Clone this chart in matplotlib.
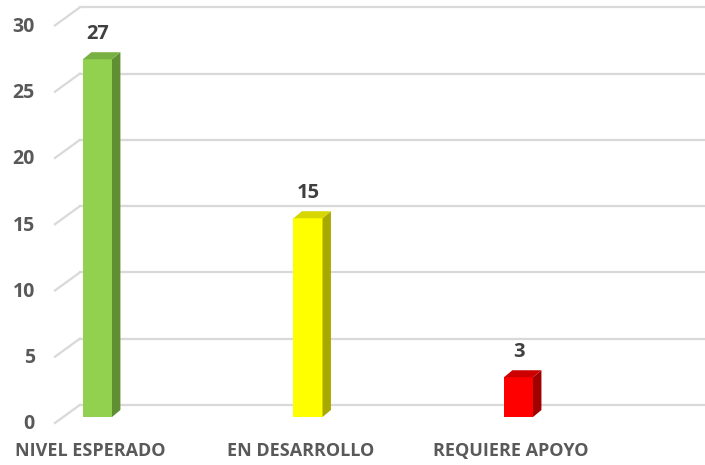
import matplotlib.pyplot as plt
import numpy as np

categories = ['NIVEL ESPERADO', 'EN DESARROLLO', 'REQUIERE APOYO']
values = [27, 15, 3]
ticks = [0, 5, 10, 15, 20, 25, 30]
front_col = ['#92D050', '#FFFF00', '#FF0000']
top_col = ['#78B043', '#D6D600', '#CC0000']
side_col = ['#5F8E33', '#A8A800', '#A00000']

plt.rcParams['font.family'] = ['Open Sans', 'DejaVu Sans']

fig = plt.figure(figsize=(7.05, 4.65), dpi=100)
ax = fig.add_axes([0, 0, 1, 1])
ax.set_xlim(-0.463, 2.886)
ax.set_ylim(-3.62, 31.47)
ax.axis('off')

# 3d look offsets (category units / value units)
w = 0.138
dx = 0.040
dy = 0.53
wall_dy = 0.92
wall_x0 = -0.083
floor_x0 = -0.202
floor_dy = -0.45

grid = '#D9D9D9'
for t in ticks:
    ax.plot([wall_x0, 2.886], [t + wall_dy, t + wall_dy], color=grid, lw=1.6, zorder=1)
    ax.plot([floor_x0, wall_x0], [t + floor_dy, t + wall_dy], color=grid, lw=1.6, zorder=1)
    ax.text(floor_x0 - 0.095, t + floor_dy - 0.1, str(t), ha='right', va='center',
            fontsize=14, fontweight='bold', color='#595959')

for i, v in enumerate(values):
    x0 = i - w / 2
    x1 = i + w / 2
    ax.fill([x0, x1, x1, x0], [0, 0, v, v], color=front_col[i], zorder=3, lw=0)
    ax.fill([x1, x1 + dx, x1 + dx, x1], [0, dy, v + dy, v], color=side_col[i], zorder=3, lw=0)
    ax.fill([x0, x1, x1 + dx, x0 + dx], [v, v, v + dy, v + dy], color=top_col[i], zorder=3, lw=0)
    ax.text(i, v + 1.9, str(v), ha='center', va='center', fontsize=14.5,
            fontweight='bold', color='#404040')
    ax.text(i - 0.035, -2.55, categories[i], ha='center', va='center', fontsize=13,
            fontweight='bold', color='#595959')

plt.savefig('out.png', dpi=100)
